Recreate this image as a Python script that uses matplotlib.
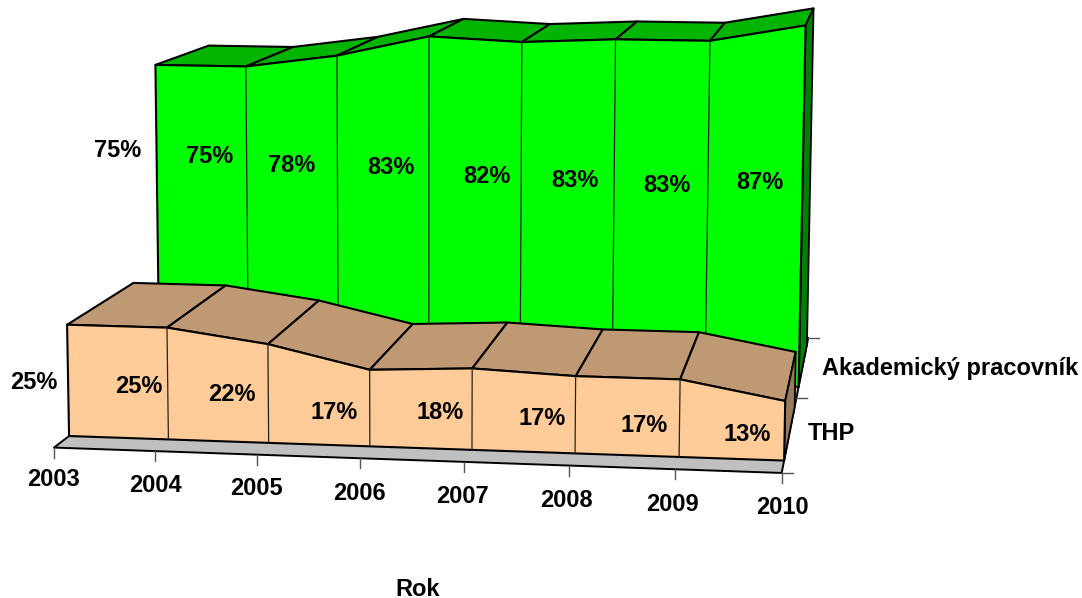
import numpy as np
import matplotlib
matplotlib.use("Agg")
import matplotlib.pyplot as plt
from matplotlib.patches import Polygon

plt.rcParams['font.family'] = ['Liberation Sans', 'DejaVu Sans']

# --- data -------------------------------------------------------------
years = [2003, 2004, 2005, 2006, 2007, 2008, 2009, 2010]
thp = [25, 25, 22, 17, 18, 17, 17, 13]
akademicky = [75, 75, 78, 83, 82, 83, 83, 87]
series_names = ["THP", "Akademický pracovník"]
axis_title = "Rok"

# --- 3-D camera calibration: (year index, percent, depth) -> pixel ------
CAL = [
    (0, 0, 0, 54, 447), (7, 0, 0, 782, 473), (7, 0, 1, 797, 398), (7, 0, 2, 808, 338),
    (0, 0, .15, 69, 436), (7, 0, .15, 784, 462), (0, 25, .15, 67, 326), (7, 13, .15, 785, 399),
    (0, 25, .87, 134, 284), (7, 13, .87, 796, 351), (0, 75, 1.17, 155, 65), (7, 87, 1.17, 805, 25),
    (0, 0, 1.17, 159, 366), (7, 0, 1.17, 798, 388), (0, 75, 1.88, 209, 45), (7, 87, 1.88, 814, 9),
]
A, b = [], []
for t, v, d, x, y in CAL:
    A.append([t, v, d, 1, 0, 0, 0, 0, -x * t, -x * v, -x * d]); b.append(x)
    A.append([0, 0, 0, 0, t, v, d, 1, -y * t, -y * v, -y * d]); b.append(y)
P = np.linalg.lstsq(np.array(A, float), np.array(b, float), rcond=None)[0]


def proj(t, v, d):
    w = P[8] * t + P[9] * v + P[10] * d + 1
    return ((P[0] * t + P[1] * v + P[2] * d + P[3]) / w,
            (P[4] * t + P[5] * v + P[6] * d + P[7]) / w)


fig = plt.figure(figsize=(10.82, 5.98), dpi=100)
ax = fig.add_axes([0, 0, 1, 1])
ax.set_xlim(0, 1082)
ax.set_ylim(598, 0)
ax.axis("off")
FS = 17


def poly(corners, fc, lw=1.5, z=1):
    ax.add_patch(Polygon([proj(*c) for c in corners], closed=True, fc=fc, ec="black",
                         lw=lw, joinstyle="round", zorder=z))


n = len(years)
T = n - 1

# floor
poly([(0, 0, 0), (T, 0, 0), (T, 0, 2), (0, 0, 2)], "#C0C0C0", 1.4, 1)


def area(vals, d0, d1, face, top, side, z):
    for i in range(T):
        poly([(i, vals[i], d0), (i + 1, vals[i + 1], d0), (i + 1, vals[i + 1], d1), (i, vals[i], d1)],
             top, 1.5, z)
    poly([(T, 0, d0), (T, 0, d1), (T, vals[T], d1), (T, vals[T], d0)], side, 1.3, z)
    pts = [(i, 0, d0) for i in range(n)] + [(i, vals[i], d0) for i in range(T, -1, -1)]
    poly(pts, face, 1.5, z)
    for i in range(1, T):
        p0, p1 = proj(i, 0, d0), proj(i, vals[i], d0)
        ax.plot([p0[0], p1[0]], [p0[1], p1[1]], color="#222222", lw=0.9, zorder=z)


area(akademicky, 1.17, 1.88, "#00FF00", "#00B400", "#008000", 2)
area(thp, 0.15, 0.87, "#FFCC99", "#BF9973", "#997A5C", 3)

# axis ticks and year labels
TICK = "#555555"
year_dx = [0, 0, -1, -1, -1, -2, -2, 1]
year_dy = [32, 34, 34, 35, 35, 35, 35, 35]
for i, yr in enumerate(years):
    x, y = proj(i, 0, 0)
    ax.plot([x, x], [y, y + 10], color=TICK, lw=1.0, zorder=4)
    ax.text(x + year_dx[i], y + year_dy[i], str(yr), ha="center", va="center", fontsize=FS,
            fontweight="bold", zorder=5)
for d in (0, 1, 2):
    x, y = proj(T, 0, d)
    ax.plot([x, x + 11], [y, y], color=TICK, lw=1.0, zorder=4)

# series-axis labels
ax.text(831, 434, series_names[0], ha="center", va="center", fontsize=FS, fontweight="bold")
ax.text(950, 369, series_names[1], ha="center", va="center", fontsize=FS, fontweight="bold")
ax.text(418, 589, axis_title, ha="center", va="center", fontsize=FS, fontweight="bold")

# data labels
front_dx = [-34, -29, -36, -36, -32, -33, -35, -37]
front_dy = [2, 3, 1, 4, 3, 4, 7, 4]
back_dx = [-39, -37, -46, -38, -34, -39, -41, -43]
back_dy = [2, 3, 7, 4, 7, 6, 6, -3]
for i in range(n):
    x, y = proj(i, thp[i] / 2, 0.15)
    ax.text(x + front_dx[i], y + front_dy[i], f"{thp[i]}%", ha="center", va="center", fontsize=FS,
            fontweight="bold", zorder=6)
    x, y = proj(i, 54.5 - 0.8 * i, 1.17)
    ax.text(x + back_dx[i], y + back_dy[i], f"{akademicky[i]}%", ha="center", va="center", fontsize=FS,
            fontweight="bold", zorder=6)

fig.savefig("out.png", dpi=100)
